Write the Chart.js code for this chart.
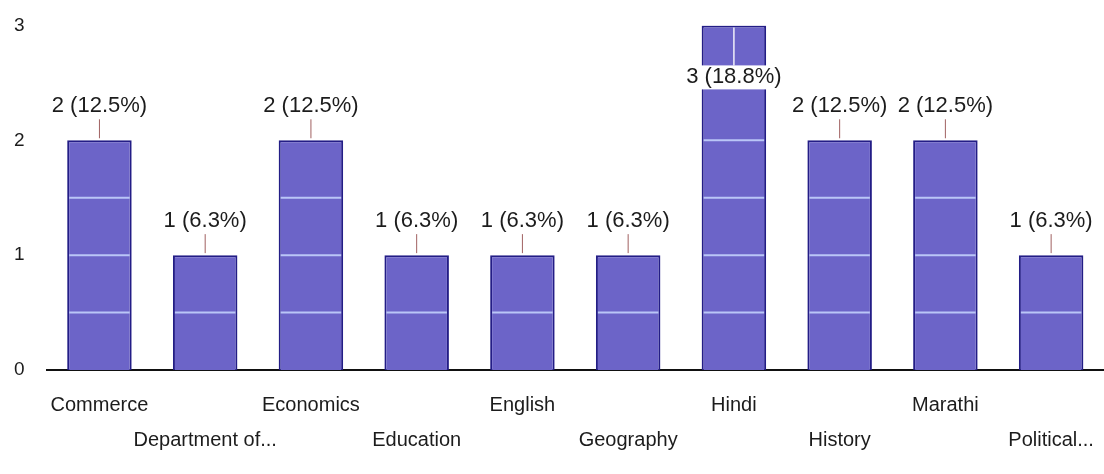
<!DOCTYPE html>
<html lang="en">
<head>
    <meta charset="UTF-8">
    <title>Responses by department</title>
    <script src="https://cdn.jsdelivr.net/npm/chart.js"></script>
    <style>
        html, body { margin: 0; padding: 0; background: #fff; }
        .wrap { width: 1104px; height: 474px; position: relative; }
    </style>
</head>
<body>
    <div class="wrap">
        <canvas id="deptChart"></canvas>
    </div>

    <script>
        const categories = ["Commerce", "Department of...", "Economics", "Education", "English",
            "Geography", "Hindi", "History", "Marathi", "Political..."];
        const responses = [2, 1, 2, 1, 1, 1, 3, 2, 2, 1];
        const yTicks = [0, 1, 2, 3];

        const total = responses.reduce((a, b) => a + b, 0);
        const textColor = "#1c1c1c";
        const fontFamily = "'Liberation Sans', Arial, sans-serif";

        // light lines seen across the bars (every half step), only inside the bars
        const barLines = {
            id: "barLines",
            afterDatasetsDraw(chart) {
                const ctx = chart.ctx;
                const y = chart.scales.y;
                const meta = chart.getDatasetMeta(0);
                ctx.save();
                ctx.strokeStyle = "rgba(200, 215, 255, 0.85)";
                ctx.lineWidth = 2;
                meta.data.forEach(bar => {
                    const half = bar.width / 2;
                    for (let v = 0.5; v < 3; v += 0.5) {
                        const py = y.getPixelForValue(v);
                        if (py <= bar.y + 2) continue;
                        ctx.beginPath();
                        ctx.moveTo(bar.x - half + 2, py);
                        ctx.lineTo(bar.x + half - 2, py);
                        ctx.stroke();
                    }
                });
                ctx.restore();
            }
        };

        const valueLabels = {
            id: "valueLabels",
            afterDatasetsDraw(chart) {
                const ctx = chart.ctx;
                const area = chart.chartArea;
                const meta = chart.getDatasetMeta(0);
                ctx.save();
                ctx.font = "22px " + fontFamily;
                ctx.textAlign = "center";
                ctx.textBaseline = "middle";
                meta.data.forEach((bar, i) => {
                    const v = responses[i];
                    const txt = v + " (" + (v / total * 100).toFixed(1) + "%)";
                    let ly = bar.y - 34;
                    let inside = false;
                    if (ly < area.top + 4) {
                        ly = bar.y + 52;
                        inside = true;
                    }
                    if (inside) {
                        const w = ctx.measureText(txt).width;
                        ctx.fillStyle = "#fff";
                        ctx.fillRect(bar.x - w / 2 - 2, ly - 12, w + 4, 24);
                        ctx.strokeStyle = "rgba(255,255,255,0.9)";
                        ctx.lineWidth = 1.5;
                        ctx.beginPath();
                        ctx.moveTo(bar.x, bar.y + 2);
                        ctx.lineTo(bar.x, ly - 12);
                        ctx.stroke();
                    } else {
                        ctx.strokeStyle = "#a06060";
                        ctx.lineWidth = 1;
                        ctx.beginPath();
                        ctx.moveTo(bar.x, ly + 13);
                        ctx.lineTo(bar.x, bar.y - 2);
                        ctx.stroke();
                    }
                    ctx.fillStyle = textColor;
                    ctx.fillText(txt, bar.x, ly);
                });
                ctx.restore();
            }
        };

        new Chart(document.getElementById("deptChart"), {
            type: "bar",
            data: {
                labels: categories,
                datasets: [{
                    data: responses,
                    backgroundColor: "#6c64c8",
                    borderColor: "#231d86",
                    borderWidth: 2,
                    categoryPercentage: 1,
                    barPercentage: 0.61
                }]
            },
            options: {
                responsive: true,
                maintainAspectRatio: false,
                animation: false,
                layout: { padding: { top: 0, right: 0, left: 0, bottom: 6 } },
                plugins: {
                    legend: { display: false },
                    tooltip: { enabled: false }
                },
                scales: {
                    x: {
                        grid: { display: false },
                        border: { display: true, color: "#111", width: 2 },
                        ticks: {
                            autoSkip: false,
                            maxRotation: 0,
                            minRotation: 0,
                            padding: 10,
                            color: textColor,
                            font: { size: 20, family: fontFamily, lineHeight: 1.75 },
                            callback: (val, i) => i % 2 ? ["", categories[i]] : categories[i]
                        }
                    },
                    y: {
                        min: 0,
                        max: yTicks[yTicks.length - 1],
                        afterBuildTicks: scale => { scale.ticks = yTicks.map(v => ({ value: v })); },
                        grid: { display: false },
                        border: { display: false },
                        ticks: {
                            padding: 14,
                            color: textColor,
                            font: { size: 19, family: fontFamily }
                        }
                    }
                }
            },
            plugins: [barLines, valueLabels]
        });
    </script>
</body>
</html>
